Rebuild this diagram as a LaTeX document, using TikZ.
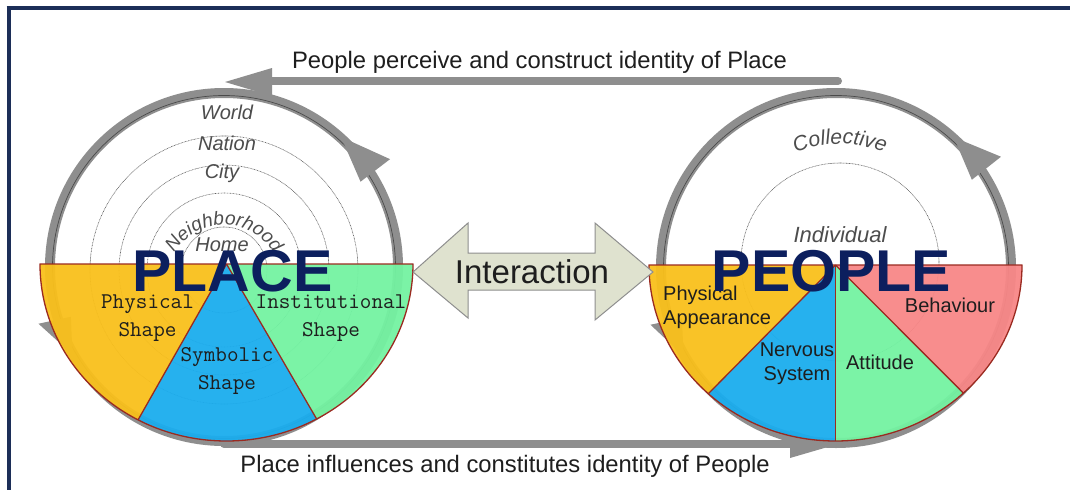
\documentclass[tikz,border=0pt]{standalone}
\usepackage{fontspec}
\setmainfont{Liberation Sans}
\usetikzlibrary{decorations.text,calc}
\definecolor{framecol}{HTML}{1C2E58}
\definecolor{arrowgray}{HTML}{8E8E8E}
\definecolor{ringline}{HTML}{4A4A4A}
\definecolor{yel}{HTML}{F9C01C}
\definecolor{blu}{HTML}{1BADEE}
\definecolor{grn}{HTML}{74F3A2}
\definecolor{pnk}{HTML}{F88787}
\definecolor{edgecol}{HTML}{9A2A20}
\definecolor{navy}{HTML}{0C1F5E}
\definecolor{labelgray}{HTML}{4D4D4D}
\definecolor{sage}{HTML}{DFE2CF}
\definecolor{txt}{HTML}{1E1E1E}
\begin{document}
\begin{tikzpicture}[x=1pt,y=1pt,
  lbl/.style={font=\itshape\fontsize{20}{24}\selectfont, text=labelgray, inner sep=0pt},
  bigword/.style={font=\bfseries\fontsize{59}{60}\selectfont, text=navy, inner sep=0pt},
  monolbl/.style={font=\ttfamily\fontsize{22.5}{28}\selectfont, text=txt, align=center, inner sep=0pt},
  sanslbl/.style={font=\fontsize{20}{24}\selectfont, text=txt, inner sep=0pt},
  caption/.style={font=\fontsize{23.8}{28}\selectfont, text=txt, inner sep=0pt},
  ringband/.style={line width=10pt, draw=arrowgray},
  ringthin/.style={line width=0.7pt, draw=ringline},
  dotcircle/.style={draw=gray!75!black, line width=0.6pt, dash pattern=on 0.8pt off 0.7pt},
  sector/.style={fill opacity=0.95},
  edgeline/.style={draw=edgecol, line width=1.3pt, line join=round},
  bigarrow/.style={draw=arrowgray, line width=8pt, line cap=round},
  headfill/.style={fill=arrowgray}
]
\useasboundingbox (0,0) rectangle (1070,-490);
\fill[white] (0,0) rectangle (1070,-490);

% frame
\draw[framecol, line width=4pt] (6.7,-8) -- (1070,-8);
\draw[framecol, line width=4pt] (8.7,-6) -- (8.7,-490);

% centres
\coordinate (LC) at (224,-267);
\coordinate (LD) at (224,-270);
\coordinate (RC) at (836,-268);
\coordinate (LS) at (226.5,-264);
\coordinate (RS) at (835.5,-265);

% top arrow
\coordinate (TA1) at (838,-81);
\coordinate (TA2) at (268,-81);
\draw[bigarrow] (TA1) -- (TA2);
\fill[headfill] (272,-68) -- (225,-82) -- (272,-96) -- cycle;
\node[caption] (toptext) at (539.5,-62) {People perceive and construct identity of Place};

% bottom arrow
\coordinate (BA1) at (224,-444);
\coordinate (BA2) at (794,-444);
\draw[bigarrow] (BA1) -- (BA2);
\fill[headfill] (790,-430) -- (838,-444) -- (790,-458) -- cycle;
\node[caption] (bottext) at (505,-466) {Place influences and constitutes identity of People};

% left ring
\draw[ringband] (LC) circle[radius=174];
\draw[ringthin] (LC) circle[radius=171.5];
\fill[headfill] ($(LC)+(48:175)$) -- ($(LC)+(33:198)$) -- ($(LC)+(32:161)$) -- cycle;
\fill[headfill] ($(LC)+(210:175)$) -- ($(LC)+(197:194)$) -- ($(LC)+(198:161)$) -- cycle;
\draw[dotcircle] (LD) circle[radius=134];
\draw[dotcircle] (LD) circle[radius=105];
\draw[dotcircle] (LD) circle[radius=77];
\draw[dotcircle] (LD) circle[radius=43];
\node[lbl] (world) at (227,-112) {World};
\node[lbl] (nation) at (227,-143) {Nation};
\node[lbl] (city) at (222,-173) {City};
\node[lbl] (home) at (222,-245) {Home};
\path[decorate, decoration={text along path, text align=center, text color=labelgray,
  text={|\itshape\fontsize{19}{19}\selectfont|Neighborhood}}]
  (224,-283) ++(152:58) arc[start angle=152, end angle=28, radius=58];

% right ring
\draw[ringband] (RC) circle[radius=175];
\draw[ringthin] (RC) circle[radius=172.5];
\fill[headfill] ($(RC)+(48:176)$) -- ($(RC)+(34:199)$) -- ($(RC)+(33:162)$) -- cycle;
\fill[headfill] ($(RC)+(210:176)$) -- ($(RC)+(197:194)$) -- ($(RC)+(198:162)$) -- cycle;
\draw[dotcircle] (840,-262) circle[radius=99];
\node[lbl, font=\itshape\fontsize{22}{26}\selectfont] (indiv) at (840,-235) {Individual};
\path[decorate, decoration={text along path, text align=center, text color=labelgray,
  text={|\itshape\fontsize{21}{21}\selectfont|Collective}}]
  (840,-266) ++(112:122) arc[start angle=112, end angle=68, radius=122];

% left semicircle
\fill[yel, sector] (LS) -- ++(180:186.5 and 177) arc[start angle=180, end angle=241.7, x radius=186.5, y radius=177] -- cycle;
\fill[blu, sector] (LS) -- ++(241.7:186.5 and 177) arc[start angle=241.7, end angle=298.9, x radius=186.5, y radius=177] -- cycle;
\fill[grn, sector] (LS) -- ++(298.9:186.5 and 177) arc[start angle=298.9, end angle=360, x radius=186.5, y radius=177] -- cycle;
\draw[edgeline] (LS) ++(180:186.5 and 177) arc[start angle=180, end angle=360, x radius=186.5, y radius=177] -- cycle;
\draw[edgeline] (LS) -- ++(241.7:186.5 and 177);
\draw[edgeline] (LS) -- ++(298.9:186.5 and 177);
\node[monolbl] (physhape) at (147.5,-318) {Physical\\Shape};
\node[monolbl] (instshape) at (331,-318) {Institutional\\Shape};
\node[monolbl] (symshape) at (227,-371) {Symbolic\\Shape};

% right semicircle
\fill[yel, sector] (RS) -- ++(180:186.5 and 176) arc[start angle=180, end angle=227, x radius=186.5, y radius=176] -- cycle;
\fill[blu, sector] (RS) -- ++(227:186.5 and 176) arc[start angle=227, end angle=270, x radius=186.5, y radius=176] -- cycle;
\fill[grn, sector] (RS) -- ++(270:186.5 and 176) arc[start angle=270, end angle=313.3, x radius=186.5, y radius=176] -- cycle;
\fill[pnk, sector] (RS) -- ++(313.3:186.5 and 176) arc[start angle=313.3, end angle=360, x radius=186.5, y radius=176] -- cycle;
\draw[edgeline] (RS) ++(180:186.5 and 176) arc[start angle=180, end angle=360, x radius=186.5, y radius=176] -- cycle;
\draw[edgeline] (RS) -- ++(227:186.5 and 176);
\draw[edgeline] (RS) -- ++(270:186.5 and 176);
\draw[edgeline] (RS) -- ++(313.3:186.5 and 176);
\node[sanslbl, align=left, anchor=west] (physapp) at (663,-307) {Physical\\Appearance};
\node[sanslbl, align=center] (nervous) at (797,-364) {Nervous\\System};
\node[sanslbl] (attitude) at (880,-362) {Attitude};
\node[sanslbl] (behaviour) at (950,-305) {Behaviour};

% big words
\node[bigword] (place) at (232.5,-271) {PLACE};
\node[bigword] (people) at (831.5,-271) {PEOPLE};

% interaction arrow
\draw[fill=sage, draw=arrowgray, line width=1pt, line join=miter]
  (413,-272) -- (468,-223) -- (468,-253) -- (595,-253) -- (595,-223) -- (653,-272)
  -- (595,-320) -- (595,-290) -- (468,-290) -- (468,-318) -- cycle;
\node[font=\fontsize{33}{36}\selectfont, text=txt, inner sep=0pt] (interaction) at (532,-272) {Interaction};
\end{tikzpicture}
\end{document}
